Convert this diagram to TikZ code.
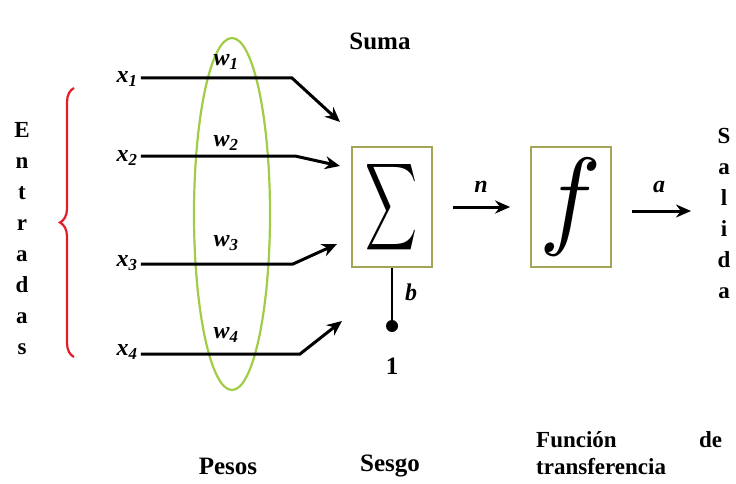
\documentclass[tikz,border=0pt]{standalone}
\usepackage{fontspec}
\setmainfont{Liberation Serif}
\usepackage{graphicx}
\usetikzlibrary{arrows.meta,decorations.pathreplacing}

\definecolor{pesosgreen}{RGB}{160,205,70}
\definecolor{boxolive}{RGB}{165,165,90}
\definecolor{bracered}{RGB}{225,30,40}

\tikzset{
  lbl/.style={font=\fontsize{25}{29}\selectfont\bfseries},
  ilbl/.style={font=\fontsize{24}{28}\selectfont\bfseries\itshape},
  inarrow/.style={line width=3pt,-{Stealth[length=15pt,width=13pt]}},
  blockbox/.style={draw=boxolive,line width=1.8pt,minimum width=80pt,minimum height=120pt,inner sep=0pt},
  vword/.style={align=center,font=\fontsize{23}{31}\selectfont\bfseries}
}

\begin{document}
\begin{tikzpicture}[x=1pt,y=-1pt]
  \useasboundingbox (0,0) rectangle (736,484);

  % pesos
  \draw[pesosgreen,line width=2.2pt] (232,214) ellipse (38 and 176);

  % entradas
  \node[vword] (entradas) at (22,239) {E\\n\\t\\r\\a\\d\\a\\s};
  \draw[bracered,line width=2.2pt,decorate,decoration={brace,amplitude=14pt,aspect=0.5}]
    (74,357) -- (74,88);

  \node[ilbl] (x1) at (127,79)  {x\textsubscript{1}};
  \node[ilbl] (x2) at (127,158) {x\textsubscript{2}};
  \node[ilbl] (x3) at (127,263) {x\textsubscript{3}};
  \node[ilbl] (x4) at (127,352) {x\textsubscript{4}};

  \node[ilbl] (w1) at (226,62)  {w\textsubscript{1}};
  \node[ilbl] (w2) at (226,143) {w\textsubscript{2}};
  \node[ilbl] (w3) at (226,243) {w\textsubscript{3}};
  \node[ilbl] (w4) at (226,335) {w\textsubscript{4}};

  \coordinate (k1) at (292,78);
  \coordinate (k2) at (295,156);
  \coordinate (k3) at (293,264);
  \coordinate (k4) at (300,354);
  \coordinate (t1) at (340,122);
  \coordinate (t2) at (340,166);
  \coordinate (t3) at (337,244);
  \coordinate (t4) at (342,321);

  \draw[inarrow] (x1.east |- k1) -- (k1) -- (t1);
  \draw[inarrow] (x2.east |- k2) -- (k2) -- (t2);
  \draw[inarrow] (x3.east |- k3) -- (k3) -- (t3);
  \draw[inarrow] (x4.east |- k4) -- (k4) -- (t4);

  % suma y sesgo
  \node[lbl] (suma) at (380,41) {Suma};
  \node[blockbox] (sum) at (392,207) {\resizebox{52pt}{64pt}{$\displaystyle\sum$}};
  \coordinate (bias) at (392,326);
  \draw[line width=2.8pt] (sum.south) -- (bias);
  \fill (bias) circle (6);
  \node[ilbl] (b) at (411,292) {b};
  \node[lbl] (uno) at (392,366) {1};

  % transferencia
  \node[blockbox] (fun) at (571,207) {\resizebox{62pt}{76pt}{$f$}};
  \draw[inarrow] ([xshift=20pt]sum.east) -- ([xshift=-20pt]fun.west);
  \node[ilbl] (n) at (481,187) {n};
  \coordinate (out) at (691,211);
  \draw[inarrow] ([xshift=20pt]fun.east |- out) -- (out);
  \node[ilbl] (a) at (659,187) {a};

  % salida
  \node[vword] (salida) at (724,213) {S\\a\\l\\i\\d\\a};

  % rotulos inferiores
  \node[lbl] (pesos) at (228,466) {Pesos};
  \node[lbl] (sesgo) at (390,466) {Sesgo};
  \node[anchor=north west,text width=186pt,align=left,inner sep=0pt,
        font=\fontsize{23}{27}\selectfont\bfseries] (ftrans) at (536,431)
        {Función \hfill de\\transferencia};
\end{tikzpicture}
\end{document}
